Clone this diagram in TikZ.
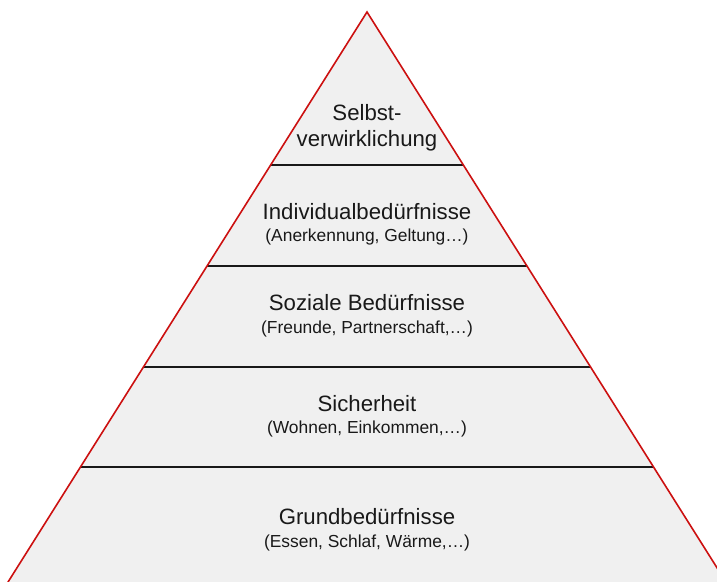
\documentclass[tikz,border=0pt]{standalone}
\usepackage{fontspec}
\setmainfont{Liberation Sans}
\definecolor{pyrfill}{HTML}{F0F0F0}
\definecolor{pyrred}{HTML}{CC1010}
\begin{document}
\begin{tikzpicture}[x=1pt,y=-1pt,
  title/.style={font=\fontsize{22.2}{24}\selectfont, inner sep=0pt, text=black!90},
  sub/.style={font=\fontsize{17.4}{20}\selectfont, inner sep=0pt, text=black!90},
  sep/.style={line width=2pt, black!90}]
\useasboundingbox (0,0) rectangle (717,581);
\clip (0,0) rectangle (717,581);
\coordinate (apex) at (367,12);
\coordinate (bl) at (-3.3,600);
\coordinate (br) at (737.3,600);
\fill[pyrfill] (apex) -- (bl) -- (br) -- cycle;
% separator end points
\coordinate (l1) at (270.8,165); \coordinate (r1) at (463.2,165);
\coordinate (l2) at (207.2,266); \coordinate (r2) at (526.8,266);
\coordinate (l3) at (143.7,367); \coordinate (r3) at (590.3,367);
\coordinate (l4) at (80.8,467);  \coordinate (r4) at (653.2,467);
\draw[sep] (l1) -- (r1);
\draw[sep] (l2) -- (r2);
\draw[sep] (l3) -- (r3);
\draw[sep] (l4) -- (r4);
\draw[pyrred, line width=1.6pt, line join=miter] (bl) -- (apex) -- (br);
% texts
\node[title] (t1a) at (367,113) {Selbst-};
\node[title] (t1b) at (367,141) {verwirklichung};
\node[title] (t2) at (367,212) {Individualbedürfnisse};
\node[sub] (s2) at (367,237) {(Anerkennung, Geltung…)};
\node[title] (t3) at (367,303) {Soziale Bedürfnisse};
\node[sub] (s3) at (367,329) {(Freunde, Partnerschaft,…)};
\node[title] (t4) at (367,404) {Sicherheit};
\node[sub] (s4) at (367,429) {(Wohnen, Einkommen,…)};
\node[title] (t5) at (367,517) {Grundbedürfnisse};
\node[sub] (s5) at (367,543) {(Essen, Schlaf, Wärme,…)};
\end{tikzpicture}
\end{document}
